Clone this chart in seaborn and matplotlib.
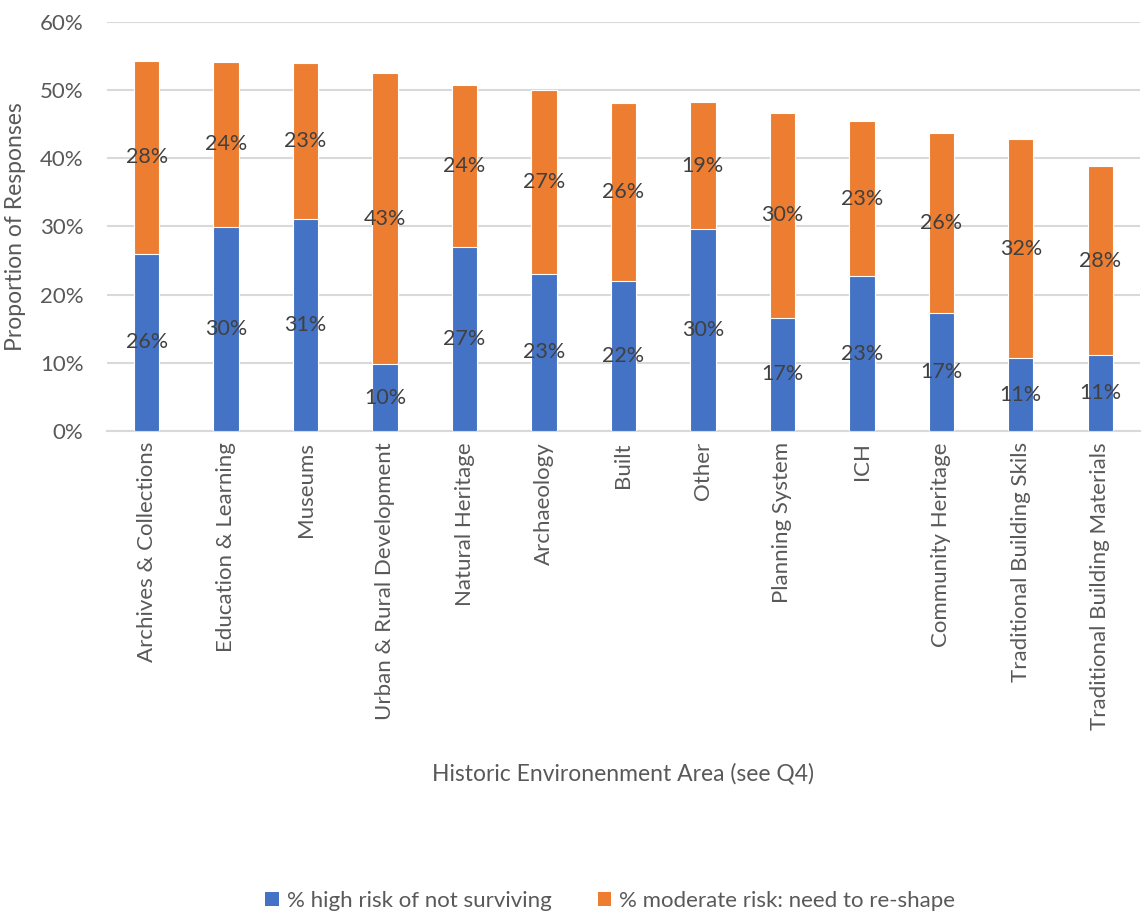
import matplotlib
matplotlib.use("Agg")
import matplotlib.pyplot as plt
from matplotlib.patches import Patch
from matplotlib.ticker import PercentFormatter
import pandas as pd
import seaborn as sns

areas = [
    "Archives & Collections", "Education & Learning", "Museums",
    "Urban & Rural Development", "Natural Heritage", "Archaeology", "Built",
    "Other", "Planning System", "ICH", "Community Heritage",
    "Traditional Building Skils", "Traditional Building Materials",
]
high_risk = [26.0, 29.9, 31.1, 9.8, 27.0, 23.1, 22.0, 29.6, 16.6, 22.7, 17.3, 10.7, 11.1]
moderate_risk = [28.3, 24.3, 22.9, 42.7, 23.8, 26.9, 26.1, 18.6, 30.1, 22.8, 26.4, 32.1, 27.8]
series_names = ["% high risk of not surviving", "% moderate risk: need to re-shape"]
y_ticks = [0, 10, 20, 30, 40, 50, 60]

BLUE = "#4472C4"
ORANGE = "#ED7D31"
GRID = "#D9D9D9"
AXIS_TXT = "#595959"
LABEL_TXT = "#404040"

sns.set_theme(style="white")
plt.rcParams["font.family"] = ["Lato", "DejaVu Sans"]

df = pd.DataFrame({
    "area": areas,
    "high": high_risk,
    "moderate": moderate_risk,
})
df["total"] = df["high"] + df["moderate"]

fig = plt.figure(figsize=(11.45, 9.16), dpi=100)
ax = fig.add_axes([0.0934, 0.5295, 0.9022, 0.4465])

# stacked bars: full height in orange, lower segment in blue on top
sns.barplot(data=df, x="area", y="total", color=ORANGE, width=0.32,
            saturation=1, edgecolor="white", linewidth=0.8, ax=ax, zorder=3)
sns.barplot(data=df, x="area", y="high", color=BLUE, width=0.32,
            saturation=1, edgecolor="white", linewidth=0.8, ax=ax, zorder=4)

# centred segment labels
for i, (h, m) in enumerate(zip(df["high"], df["moderate"])):
    ax.text(i, h / 2, f"{h:.0f}%", ha="center", va="center",
            fontsize=15.5, color=LABEL_TXT, zorder=5)
    ax.text(i, h + m / 2, f"{m:.0f}%", ha="center", va="center",
            fontsize=15.5, color=LABEL_TXT, zorder=5)

ax.set_ylim(0, 60)
ax.set_xlim(-0.5, len(areas) - 0.5)
ax.set_yticks(y_ticks)
ax.yaxis.set_major_formatter(PercentFormatter(decimals=0))
ax.grid(axis="y", color=GRID, linewidth=1.5, zorder=0)
ax.set_axisbelow(True)
for side in ["top", "right", "left"]:
    ax.spines[side].set_visible(False)
ax.spines["bottom"].set_color(GRID)
ax.spines["bottom"].set_linewidth(1.5)
ax.tick_params(axis="both", length=0, labelsize=16, colors=AXIS_TXT)
ax.tick_params(axis="y", pad=17)
ax.tick_params(axis="x", pad=8)
plt.setp(ax.get_xticklabels(), rotation=90)

ax.set_ylabel("Proportion of Responses", fontsize=16.5, color=AXIS_TXT, labelpad=10)
ax.set_xlabel("Historic Environenment Area (see Q4)", fontsize=16.5,
              color=AXIS_TXT, labelpad=24)

handles = [Patch(facecolor=BLUE, edgecolor="none"),
           Patch(facecolor=ORANGE, edgecolor="none")]
fig.legend(handles, series_names, loc="center", bbox_to_anchor=(0.533, 0.0165),
           ncol=2, frameon=False, fontsize=16, labelcolor=AXIS_TXT,
           handlelength=0.6, handleheight=0.6, handletextpad=0.35,
           columnspacing=2.1)

fig.savefig("out.png", dpi=100)
